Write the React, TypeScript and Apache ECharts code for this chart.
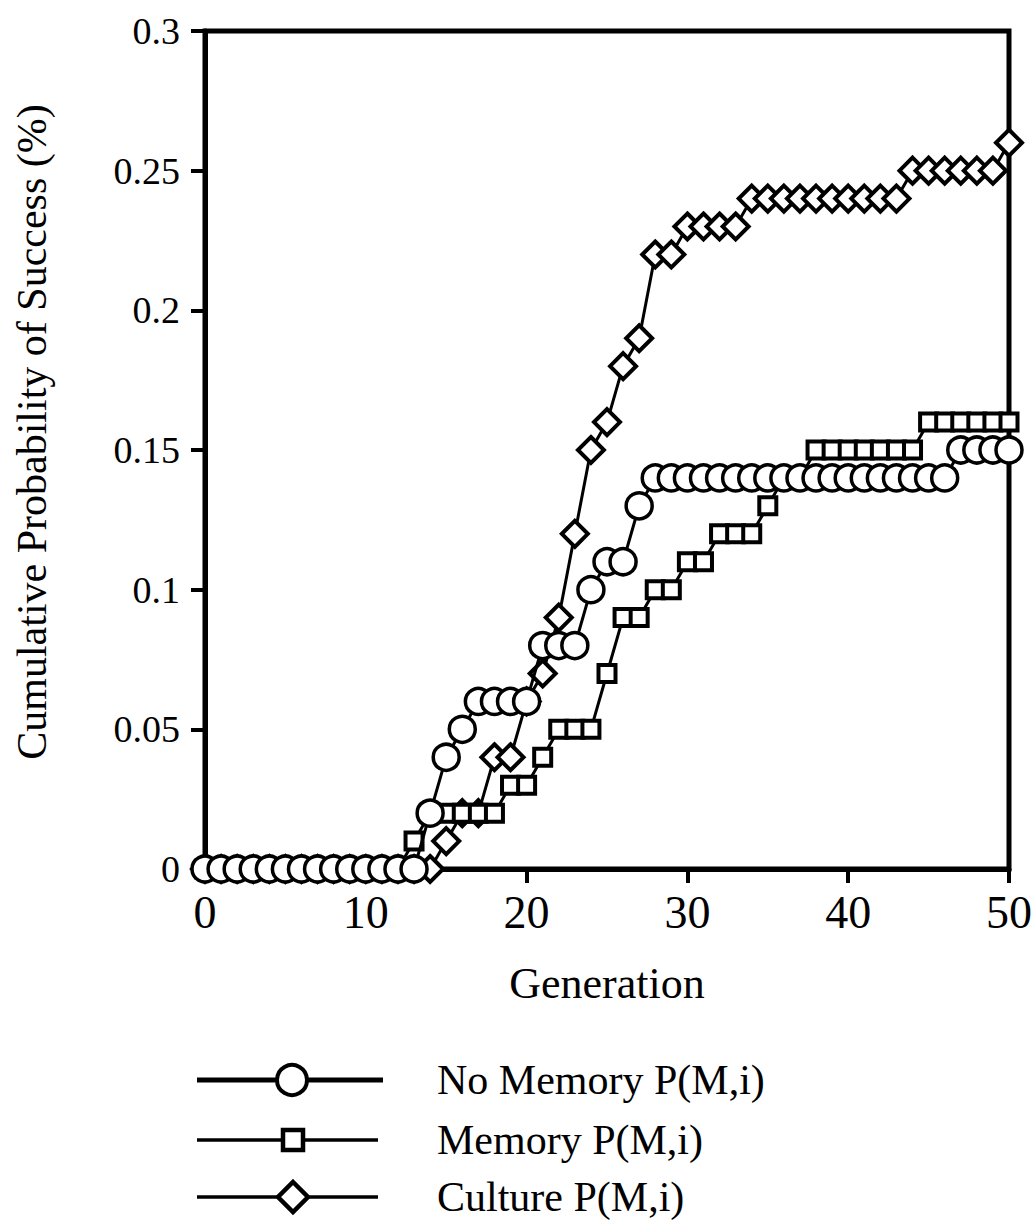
import React, { useEffect, useRef } from "react";
import * as echarts from "echarts";

const generations = [0,1,2,3,4,5,6,7,8,9,10,11,12,13,14,15,16,17,18,19,20,21,22,23,24,25,26,27,28,29,30,31,32,33,34,35,36,37,38,39,40,41,42,43,44,45,46,47,48,49,50];

const noMemory = [0,0,0,0,0,0,0,0,0,0,0,0,0,0,0.02,0.04,0.05,0.06,0.06,0.06,0.06,0.08,0.08,0.08,0.10,0.11,0.11,0.13,0.14,0.14,0.14,0.14,0.14,0.14,0.14,0.14,0.14,0.14,0.14,0.14,0.14,0.14,0.14,0.14,0.14,0.14,0.14,0.15,0.15,0.15,0.15];

const memory = [0,0,0,0,0,0,0,0,0,0,0,0,0,0.01,0.02,0.02,0.02,0.02,0.02,0.03,0.03,0.04,0.05,0.05,0.05,0.07,0.09,0.09,0.10,0.10,0.11,0.11,0.12,0.12,0.12,0.13,0.14,0.14,0.15,0.15,0.15,0.15,0.15,0.15,0.15,0.16,0.16,0.16,0.16,0.16,0.16];

const culture = [0,0,0,0,0,0,0,0,0,0,0,0,0,0,0,0.01,0.02,0.02,0.04,0.04,0.06,0.07,0.09,0.12,0.15,0.16,0.18,0.19,0.22,0.22,0.23,0.23,0.23,0.23,0.24,0.24,0.24,0.24,0.24,0.24,0.24,0.24,0.24,0.24,0.25,0.25,0.25,0.25,0.25,0.25,0.26];

const seriesNames = ["No Memory P(M,i)", "Memory P(M,i)", "Culture P(M,i)"];
const xTicks = [0, 10, 20, 30, 40, 50];
const yTicks = [0, 0.05, 0.1, 0.15, 0.2, 0.25, 0.3];

const FONT = "'Liberation Serif', 'Times New Roman', serif";

function pairs(vals: number[]) {
  return generations.map((g, i) => [g, vals[i]]);
}

export default function App() {
  const ref = useRef<HTMLDivElement>(null);
  useEffect(() => {
    document.body.style.margin = "0";
    if (!ref.current) return;
    const chart = echarts.init(ref.current, undefined, { renderer: "svg" });
    const black = "#000";
    const legendRows = [1080, 1140, 1197];
    const graphics: any[] = [
      {
        type: "text",
        x: 32,
        y: 432,
        rotation: Math.PI / 2,
        style: {
          text: "Cumulative Probability of Success (%)",
          font: `42px ${FONT}`,
          fill: black,
          align: "center",
          verticalAlign: "middle",
        },
      },
      // legend
      { type: "line", shape: { x1: 197, y1: legendRows[0], x2: 383, y2: legendRows[0] }, style: { stroke: black, lineWidth: 5 } },
      { type: "circle", shape: { cx: 292, cy: legendRows[0], r: 15 }, style: { fill: "#fff", stroke: black, lineWidth: 4 } },
      { type: "line", shape: { x1: 197, y1: legendRows[1], x2: 378, y2: legendRows[1] }, style: { stroke: black, lineWidth: 3.5 } },
      { type: "rect", shape: { x: 283, y: legendRows[1] - 10, width: 20, height: 20 }, style: { fill: "#fff", stroke: black, lineWidth: 4.5 } },
      { type: "line", shape: { x1: 197, y1: legendRows[2], x2: 378, y2: legendRows[2] }, style: { stroke: black, lineWidth: 3.5 } },
      {
        type: "polygon",
        shape: { points: [[293, legendRows[2] - 15], [308, legendRows[2]], [293, legendRows[2] + 15], [278, legendRows[2]]] },
        style: { fill: "#fff", stroke: black, lineWidth: 4.5 },
      },
    ];
    seriesNames.forEach((n, i) => {
      graphics.push({
        type: "text",
        x: 437,
        y: legendRows[i],
        style: { text: n, font: `42px ${FONT}`, fill: black, align: "left", verticalAlign: "middle" },
      });
    });

    chart.setOption({
      animation: false,
      backgroundColor: "#fff",
      grid: {
        left: 205,
        right: 27,
        top: 31,
        bottom: 356,
        show: true,
        borderColor: black,
        borderWidth: 5,
        containLabel: false,
      },
      xAxis: {
        type: "value",
        min: xTicks[0],
        max: xTicks[xTicks.length - 1],
        interval: 10,
        name: "Generation",
        nameLocation: "middle",
        nameGap: 92,
        nameTextStyle: { fontFamily: FONT, fontSize: 44, color: black },
        axisLine: { show: true, onZero: false, lineStyle: { color: black, width: 5 } },
        axisTick: { show: true, inside: false, length: 14, lineStyle: { color: black, width: 4 } },
        axisLabel: { fontFamily: FONT, fontSize: 46, color: black, margin: 20 },
        splitLine: { show: false },
      },
      yAxis: {
        type: "value",
        min: yTicks[0],
        max: yTicks[yTicks.length - 1],
        interval: 0.05,
        axisLine: { show: true, onZero: false, lineStyle: { color: black, width: 5 } },
        axisTick: { show: true, inside: false, length: 14, lineStyle: { color: black, width: 4 } },
        axisLabel: {
          fontFamily: FONT,
          fontSize: 38,
          color: black,
          margin: 25,
          formatter: (v: number) => String(+v.toFixed(2)),
        },
        splitLine: { show: false },
      },
      series: [
        {
          name: seriesNames[2],
          type: "line",
          data: pairs(culture),
          symbol: "diamond",
          symbolSize: 26,
          showAllSymbol: true,
          lineStyle: { color: black, width: 3 },
          itemStyle: { color: "#fff", borderColor: black, borderWidth: 4 },
          z: 2,
        },
        {
          name: seriesNames[1],
          type: "line",
          data: pairs(memory),
          symbol: "rect",
          symbolSize: 17,
          showAllSymbol: true,
          lineStyle: { color: black, width: 3 },
          itemStyle: { color: "#fff", borderColor: black, borderWidth: 4 },
          z: 3,
        },
        {
          name: seriesNames[0],
          type: "line",
          data: pairs(noMemory),
          symbol: "circle",
          symbolSize: 26,
          showAllSymbol: true,
          lineStyle: { color: black, width: 3 },
          itemStyle: { color: "#fff", borderColor: black, borderWidth: 3.5 },
          z: 4,
        },
      ],
      graphic: graphics,
    });
    return () => chart.dispose();
  }, []);
  return <div ref={ref} style={{ width: 1036, height: 1225 }} />;
}
